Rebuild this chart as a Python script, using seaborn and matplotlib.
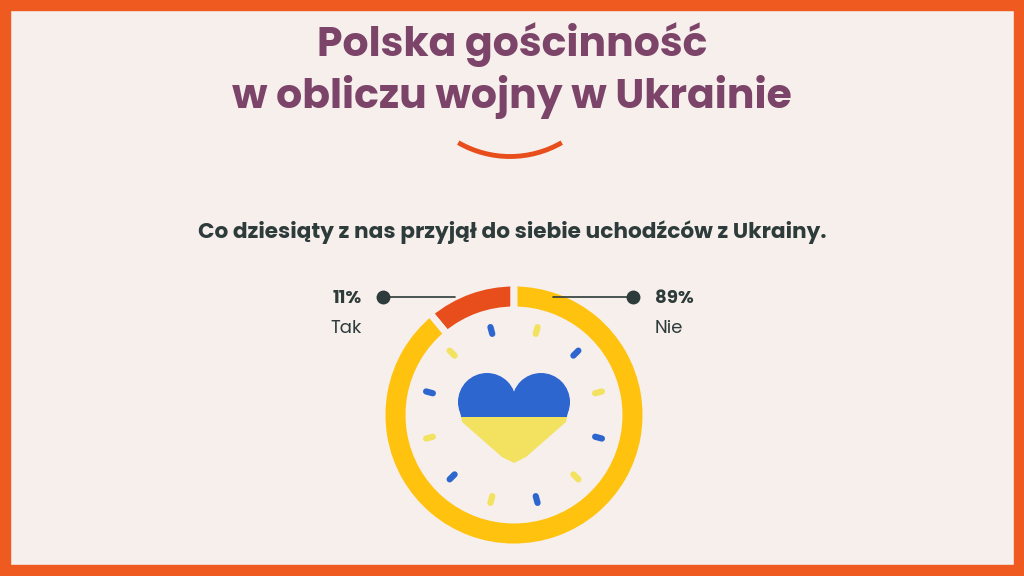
import numpy as np
import matplotlib
matplotlib.use("Agg")
import matplotlib.pyplot as plt
import seaborn as sns
from matplotlib.patches import Rectangle, Arc, Polygon, Circle

sns.set_style("white")
plt.rcParams['font.family'] = ['Poppins', 'Lato', 'DejaVu Sans']

labels = ["Tak", "Nie"]
values = [11, 89]
pct_labels = ["11%", "89%"]
colors = ["#E84E1B", "#FFC20E"]
title_lines = ["Polska gościnność", "w obliczu wojny w Ukrainie"]
subtitle = "Co dziesiąty z nas przyjął do siebie uchodźców z Ukrainy."

BG = "#F6EFEC"
fig = plt.figure(figsize=(10.24, 5.76), dpi=100, facecolor=BG)
ax = fig.add_axes([0, 0, 1, 1])
Y = lambda y: 576 - y

cx, cy = 514, Y(415)
ax.pie(values, colors=colors, startangle=90, counterclock=True, center=(cx, cy), radius=132,
       wedgeprops=dict(width=27, edgecolor=BG, linewidth=5), frame=True)
ax.set_xlim(0, 1024); ax.set_ylim(0, 576); ax.set_aspect("equal"); ax.axis("off")

# ticks
for k in range(12):
    a = np.deg2rad(15 + 30 * k)
    c = "#2E66D0" if k % 2 == 1 else "#F2E260"
    r0, r1 = 84, 91
    ax.plot([cx + r0*np.cos(a), cx + r1*np.cos(a)], [cy + r0*np.sin(a), cy + r1*np.sin(a)],
            color=c, lw=4.5, solid_capstyle="round")

# heart: two lobes + rounded bottom
split = Y(417)
def heart_parts(color, clip):
    parts = [Circle((cx - 27, Y(402)), 29), Circle((cx + 27, Y(402)), 29),
             Polygon([(cx-56, Y(400)), (cx-52, Y(422)), (cx-12, Y(457)), (cx, Y(463)),
                      (cx+12, Y(457)), (cx+52, Y(422)), (cx+56, Y(400))], closed=True)]
    for p in parts:
        p.set_facecolor(color); p.set_edgecolor("none"); p.set_zorder(3)
        ax.add_patch(p)
        p.set_clip_path(clip)
top_rect = Rectangle((440, split), 150, 100, transform=ax.transData)
bot_rect = Rectangle((440, split - 100), 150, 100, transform=ax.transData)
heart_parts("#2E66D0", top_rect)
heart_parts("#F2E260", bot_rect)

# leaders
dark = "#2D3B3A"
ax.plot([383, 455], [Y(297)]*2, color=dark, lw=1.2)
ax.plot(383, Y(297), "o", color=dark, ms=9)
ax.plot([553, 633], [Y(297)]*2, color=dark, lw=1.2)
ax.plot(633, Y(297), "o", color=dark, ms=9)
ax.text(362, Y(299), pct_labels[0], ha="right", va="center", fontsize=13, fontweight="bold", color=dark)
ax.text(362, Y(329), labels[0], ha="right", va="center", fontsize=13, color=dark)
ax.text(655, Y(299), pct_labels[1], ha="left", va="center", fontsize=13, fontweight="bold", color=dark)
ax.text(655, Y(329), labels[1], ha="left", va="center", fontsize=13, color=dark)

ax.text(512, Y(45), title_lines[0], ha="center", va="center", fontsize=29.5, fontweight="bold", color="#7B4468")
ax.text(512, Y(97), title_lines[1], ha="center", va="center", fontsize=29.5, fontweight="bold", color="#7B4468")
ax.add_patch(Arc((510, Y(53)), 207, 207, theta1=240, theta2=300, color="#E84E1B", lw=3.5))
ax.text(512, Y(232), subtitle, ha="center", va="center", fontsize=15.6, fontweight="bold", color=dark)

b = "#EE5A1F"
for r in [(0, 0, 1024, 10), (0, 565, 1024, 11), (0, 0, 10, 576), (1014, 0, 10, 576)]:
    ax.add_patch(Rectangle((r[0], Y(r[1]+r[3])), r[2], r[3], color=b, zorder=10))

fig.savefig("out.png", dpi=100, facecolor=BG)
